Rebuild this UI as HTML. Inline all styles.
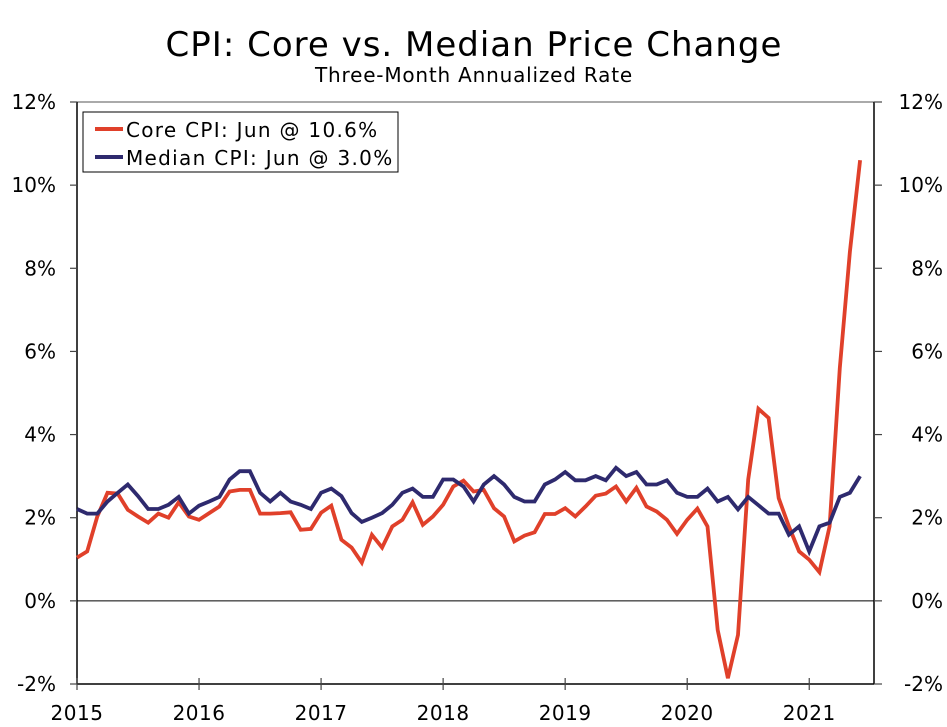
<!DOCTYPE html>
<html><head><meta charset="utf-8">
<style>
html,body{margin:0;padding:0;background:#fff;}
svg{display:block;font-family:"DejaVu Sans","Liberation Sans",sans-serif;}
</style></head>
<body>
<svg id="chart" width="947" height="727" viewBox="0 0 947 727" xmlns="http://www.w3.org/2000/svg">
<text x="474" y="56" text-anchor="middle" font-size="34" letter-spacing="1" fill="#000">CPI: Core vs. Median Price Change</text>
<text x="474" y="82" text-anchor="middle" font-size="20" letter-spacing="0.8" fill="#000">Three-Month Annualized Rate</text>
<g id="axes"></g>
<g id="series"></g>
<g>
<rect x="83" y="112" width="315" height="60" fill="#fff" stroke="#000" stroke-width="1"/>
<line x1="95" y1="129" x2="123" y2="129" stroke="#e0402a" stroke-width="4"/>
<text x="126" y="137" font-size="20" letter-spacing="1.3">Core CPI: Jun @ 10.6%</text>
<line x1="95" y1="157" x2="123" y2="157" stroke="#2e2a6e" stroke-width="4"/>
<text x="126" y="165" font-size="20" letter-spacing="1.3">Median CPI: Jun @ 3.0%</text>
</g>
</svg>
<script>
const yTicks = [-2, 0, 2, 4, 6, 8, 10, 12];
const years = [2015, 2016, 2017, 2018, 2019, 2020, 2021];
const coreCPI = [1.04,1.19,2.03,2.6,2.58,2.19,2.03,1.88,2.1,2.0,2.37,2.03,1.95,2.11,2.27,2.63,2.67,2.67,2.1,2.1,2.11,2.13,1.71,1.73,2.12,2.29,1.47,1.28,0.92,1.59,1.28,1.79,1.95,2.37,1.83,2.03,2.31,2.75,2.89,2.63,2.67,2.23,2.03,1.43,1.57,1.65,2.09,2.09,2.23,2.03,2.27,2.53,2.58,2.75,2.39,2.72,2.27,2.15,1.95,1.61,1.95,2.22,1.79,-0.7,-1.86,-0.82,2.92,4.62,4.4,2.47,1.79,1.19,0.99,0.69,1.79,5.6,8.4,10.6];
const medianCPI = [2.21,2.1,2.1,2.39,2.6,2.8,2.52,2.21,2.21,2.31,2.5,2.1,2.29,2.39,2.5,2.92,3.12,3.12,2.6,2.39,2.6,2.39,2.31,2.21,2.6,2.7,2.52,2.11,1.9,2.0,2.11,2.31,2.6,2.7,2.5,2.5,2.92,2.92,2.75,2.39,2.8,3.0,2.8,2.5,2.39,2.39,2.8,2.92,3.1,2.9,2.9,3.0,2.9,3.2,3.0,3.1,2.8,2.8,2.9,2.6,2.5,2.5,2.7,2.39,2.5,2.2,2.5,2.3,2.1,2.1,1.59,1.79,1.19,1.79,1.88,2.5,2.6,3.0];

const NS='http://www.w3.org/2000/svg';
const L=77,R=874,T=102,B=684;
const yMin=-2,yMax=12;
function y(v){return B-(v-yMin)/(yMax-yMin)*(B-T);}
function xMonth(i){return 77+i*10.17;}
function xYear(yr){return xMonth((yr-2015)*12);}
function mk(tag,attrs,parent){const e=document.createElementNS(NS,tag);for(const k in attrs)e.setAttribute(k,attrs[k]);parent.appendChild(e);return e;}
const ax=document.getElementById('axes');
let e;
e=mk('line',{x1:L,y1:T,x2:R,y2:T,stroke:'#555','stroke-width':1},ax);


e=mk('line',{x1:L,y1:T,x2:L,y2:B,stroke:'#000','stroke-width':1.5},ax);


e=mk('line',{x1:R,y1:T,x2:R,y2:B,stroke:'#000','stroke-width':1.5},ax);


e=mk('line',{x1:L,y1:B,x2:R,y2:B,stroke:'#000','stroke-width':1.5},ax);


e=mk('line',{x1:L,y1:y(0),x2:R,y2:y(0),stroke:'#000','stroke-width':1},ax);


yTicks.forEach(v=>{
  const yy=y(v);
  mk('line',{x1:L-7,y1:yy,x2:L,y2:yy,stroke:'#444','stroke-width':1.2},ax);
  mk('line',{x1:R,y1:yy,x2:R+8,y2:yy,stroke:'#444','stroke-width':1.2},ax);
  let t=mk('text',{x:56,y:yy+7,'text-anchor':'end','font-size':20},ax);
  t.textContent=v+'%';
  
  
  t=mk('text',{x:943,y:yy+7,'text-anchor':'end','font-size':20},ax);
  t.textContent=v+'%';
  
  
});
years.forEach(yr=>{
  const xx=xYear(yr);
  mk('line',{x1:xx,y1:B-6,x2:xx,y2:B+6,stroke:'#444','stroke-width':1.2},ax);
  const t=mk('text',{x:xx,y:720,'text-anchor':'middle','font-size':20,'letter-spacing':0.5},ax);
  t.textContent=yr;
  
  
});
const sg=document.getElementById('series');
function line(data,color,name){
  const p=mk('polyline',{points:data.map((v,i)=>xMonth(i).toFixed(1)+','+y(v).toFixed(1)).join(' '),fill:'none',stroke:color,'stroke-width':3.8,'stroke-linejoin':'miter'},sg);
  
  
}
line(coreCPI,'#e0402a','core-cpi-line');
line(medianCPI,'#2e2a6e','median-cpi-line');
</script>
</body></html>
